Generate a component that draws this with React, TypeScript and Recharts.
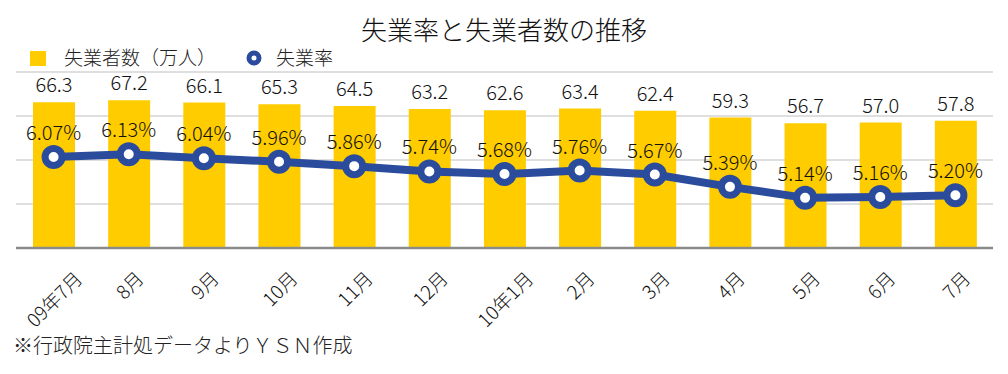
import { ComposedChart, Bar, Line, XAxis, YAxis, CartesianGrid } from 'recharts';

const months = ["09年7月", "8月", "9月", "10月", "11月", "12月", "10年1月", "2月", "3月", "4月", "5月", "6月", "7月"];
const unemployed = [66.3, 67.2, 66.1, 65.3, 64.5, 63.2, 62.6, 63.4, 62.4, 59.3, 56.7, 57.0, 57.8]; // 万人
const rate = [6.07, 6.13, 6.04, 5.96, 5.86, 5.74, 5.68, 5.76, 5.67, 5.39, 5.14, 5.16, 5.20]; // %
const countTicks = [0, 20, 40, 60, 80];

const data = months.map((m, i) => ({ month: m, count: unemployed[i], rate: rate[i] }));

const YELLOW = "#FFCC00";
const NAVY = "#2B4C9C";
const FONT = "'Noto Sans CJK JP', 'Noto Sans', sans-serif";

// rough width of a label, digits are narrow and kanji are full width
const estWidth = (s: string, f: number) =>
  s.split("").reduce((acc, c) => acc + (/[0-9]/.test(c) ? 0.55 : 1), 0) * f;

function MonthTick(props: any) {
  const { x, y, payload } = props;
  const f = 19;
  const s = String(payload.value);
  const half = (estWidth(s, f) + f) * 0.3536;
  return (
    <text
      transform={`translate(${x},${y + 19 + half}) rotate(-45)`}
      textAnchor="middle"
      dominantBaseline="central"
      fontSize={f}
      fill="#111"
    >
      {s}
    </text>
  );
}

const barLabel = (props: any) => {
  const { x, y, width, value } = props;
  return (
    <text x={x + width / 2} y={y - 10} textAnchor="middle" fontSize={20} fill="#111">
      {Number(value).toFixed(1)}
    </text>
  );
};

const rateLabel = (props: any) => {
  const { x, y, value } = props;
  return (
    <text x={x} y={y - 17} textAnchor="middle" fontSize={20} fill="#111">
      {Number(value).toFixed(2)}%
    </text>
  );
};

export default function App() {
  return (
    <div style={{ position: "relative", width: 1008, height: 374, margin: -8, fontFamily: FONT, fontWeight: 300, background: "#fff" }}>
      <div style={{ position: "absolute", left: 0, width: 1008, top: 16, textAlign: "center", fontSize: 26, lineHeight: "26px", color: "#111" }}>
        失業率と失業者数の推移
      </div>

      {/* legend */}
      <div style={{ position: "absolute", left: 30, top: 51, width: 16, height: 15, background: YELLOW }} />
      <div style={{ position: "absolute", left: 64, top: 47, fontSize: 19, lineHeight: "19px", color: "#222" }}>
        失業者数（万人）
      </div>
      <svg style={{ position: "absolute", left: 244, top: 48 }} width={20} height={20}>
        <circle cx={10} cy={10} r={5} fill="#fff" stroke={NAVY} strokeWidth={5} />
      </svg>
      <div style={{ position: "absolute", left: 276, top: 47, fontSize: 19, lineHeight: "19px", color: "#222" }}>
        失業率
      </div>

      <ComposedChart
        width={1008}
        height={374}
        data={data}
        margin={{ top: 72, right: 15, bottom: 0, left: 16 }}
        barSize={42}
      >
        <CartesianGrid yAxisId="count" vertical={false} stroke="#d4d4d4" strokeWidth={1.5} />
        <XAxis
          dataKey="month"
          height={126}
          interval={0}
          tickLine={false}
          tickSize={0}
          tickMargin={0}
          axisLine={{ stroke: "#8a8a8a", strokeWidth: 2.5 }}
          tick={<MonthTick />}
        />
        <YAxis yAxisId="count" hide domain={[0, 80]} ticks={countTicks} />
        <YAxis yAxisId="rate" hide domain={[4, 8]} orientation="right" />
        <Bar yAxisId="count" dataKey="count" fill={YELLOW} isAnimationActive={false} label={barLabel} />
        <Line
          yAxisId="rate"
          dataKey="rate"
          stroke={NAVY}
          strokeWidth={8}
          dot={{ r: 8.5, strokeWidth: 7, fill: "#fff", stroke: NAVY }}
          isAnimationActive={false}
          label={rateLabel}
        />
      </ComposedChart>

      <div style={{ position: "absolute", left: 13, top: 335, fontSize: 20, lineHeight: "20px", color: "#222" }}>
        ※行政院主計処データよりＹＳＮ作成
      </div>
    </div>
  );
}
